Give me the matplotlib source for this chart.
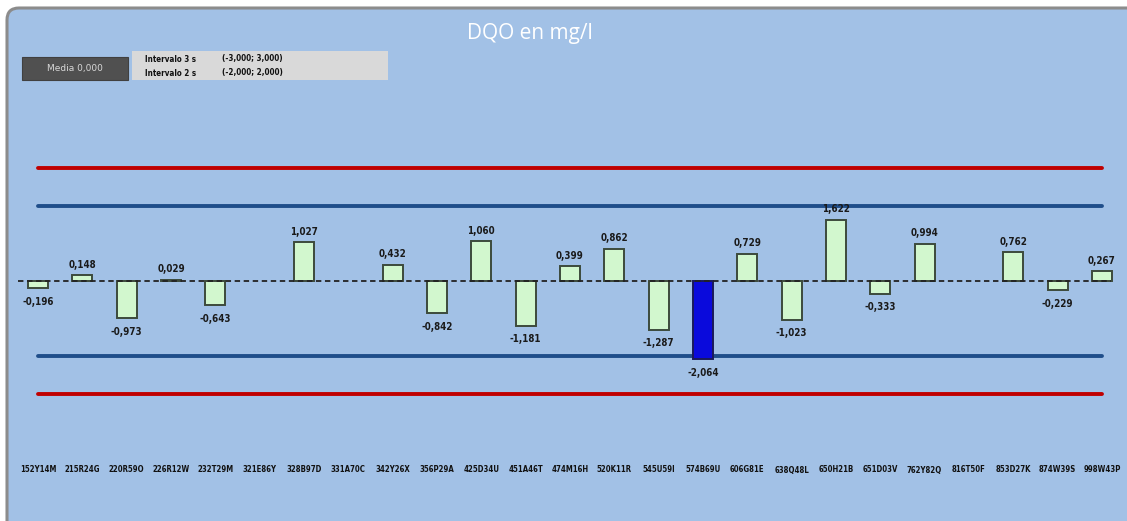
import numpy as np
import matplotlib
matplotlib.use("Agg")
import matplotlib.pyplot as plt
from matplotlib.patches import FancyBboxPatch, Rectangle

categories = ["152Y14M", "215R24G", "220R59O", "226R12W", "232T29M", "321E86Y",
              "328B97D", "331A70C", "342Y26X", "356P29A", "425D34U", "451A46T",
              "474M16H", "520K11R", "545U59I", "574B69U", "606G81E", "638Q48L",
              "650H21B", "651D03V", "762Y82Q", "816T50F", "853D27K", "874W39S",
              "998W43P"]
values = [-0.196, 0.148, -0.973, 0.029, -0.643, np.nan,
          1.027, np.nan, 0.432, -0.842, 1.060, -1.181,
          0.399, 0.862, -1.287, -2.064, 0.729, -1.023,
          1.622, -0.333, 0.994, np.nan, 0.762, -0.229,
          0.267]
highlight = "574B69U"
mean = 0.0
limit3 = 3.0
limit2 = 2.0

W, H = 1127, 521
fig = plt.figure(figsize=(W / 100, H / 100), dpi=100)
fig.patch.set_facecolor("white")

# background axes with frame
bg = fig.add_axes([0, 0, 1, 1], zorder=0)
bg.set_xlim(0, W)
bg.set_ylim(H, 0)
bg.axis("off")
frame = FancyBboxPatch((7, 8), W + 30, H + 30,
                       boxstyle="round,pad=0,rounding_size=12",
                       facecolor="#A2C1E6", edgecolor="#8C8C8C",
                       linewidth=2.2, zorder=0)
bg.add_patch(frame)
bg.add_patch(Rectangle((22, 57), 106, 23, facecolor="#505050",
                       edgecolor="#404040", lw=0.8, zorder=1))
bg.add_patch(Rectangle((132, 51), 256, 29, facecolor="#D9D9D9",
                       edgecolor="none", zorder=1))

ax = fig.add_axes([0, 0, 1, 1], zorder=1)
ax.set_facecolor("none")
step = 44.33
x0px = 38
ax.set_xlim((0 - x0px) / step, (W - x0px) / step)
zero_px_from_bottom = H - 281
unit = 37.7
ax.set_ylim(-zero_px_from_bottom / unit, (H - zero_px_from_bottom) / unit)
ax.axis("off")

x = np.arange(len(categories))
vals = np.array(values, dtype=float)
ok = ~np.isnan(vals)
colors = np.array(["#0A0ADC" if c == highlight else "#D2F7CE" for c in categories])
edges = np.array(["#1A1A5A" if c == highlight else "#3C4A3C" for c in categories])
ax.bar(x[ok], vals[ok], width=0.45, color=colors[ok], edgecolor=edges[ok],
       linewidth=1.4, zorder=3)

# limit lines
ax.plot([x[0], x[-1]], [limit3, limit3], color="#C00000", lw=2.8, zorder=2, solid_capstyle="round")
ax.plot([x[0], x[-1]], [-limit3, -limit3], color="#C00000", lw=2.8, zorder=2, solid_capstyle="round")
ax.plot([x[0], x[-1]], [limit2, limit2], color="#1F4E8A", lw=2.8, zorder=2, solid_capstyle="round")
ax.plot([x[0], x[-1]], [-limit2, -limit2], color="#1F4E8A", lw=2.8, zorder=2, solid_capstyle="round")
ax.plot([x[0] - 0.45, x[-1] + 0.2], [mean, mean], color="#222222", lw=1.3,
        ls=(0, (3, 2)), zorder=4)

def fmt(v):
    return f"{v:.3f}".replace(".", ",")

for xi, v in zip(x[ok], vals[ok]):
    off = 7.5 if v >= 0 else -10
    ax.annotate(fmt(v), (xi, v), xytext=(0, off), textcoords="offset points",
                ha="center", va="center", fontsize=7, fontweight="bold",
                fontstretch="condensed", color="#1A1A1A", zorder=5)

for xi, c in zip(x, categories):
    ax.text(xi, -(470 - 281) / unit, c, ha="center", va="center", fontsize=5.6,
            fontweight="bold", fontstretch="condensed", color="#111111")

# title
fig.text(530 / W, 1 - 33 / H, "DQO en mg/l", ha="center", va="center",
         fontsize=15, color="white", family=["Open Sans", "DejaVu Sans"], zorder=5)

# info box texts
fig.text(75 / W, 1 - 68.5 / H, "Media " + fmt(mean), ha="center", va="center",
         fontsize=6.5, color="#D8D8D8", zorder=5)
for row, lim in ((59, limit3), (73, limit2)):
    lab = "Intervalo 3 s" if lim == limit3 else "Intervalo 2 s"
    fig.text(145 / W, 1 - row / H, lab, ha="left", va="center",
             fontsize=5.8, fontweight="bold", fontstretch="condensed",
             color="#111111", zorder=5)
    fig.text(222 / W, 1 - row / H, f"({fmt(-lim)}; {fmt(lim)})", ha="left",
             va="center", fontsize=5.8, fontweight="bold",
             fontstretch="condensed", color="#111111", zorder=5)

fig.savefig("out.png", dpi=100, facecolor=fig.get_facecolor())
